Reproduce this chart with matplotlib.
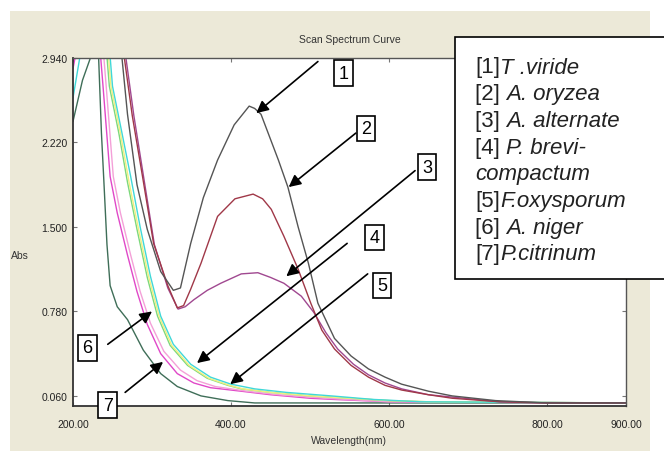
import matplotlib.pyplot as plt
from matplotlib.patches import Rectangle

# wavelength (nm) / absorbance readings for each scan
wl_t_viride = [200, 255, 262, 269, 281, 294, 311, 327, 336, 349, 365, 383, 404, 423, 430, 438,
               460, 472, 485, 498, 510, 531, 552, 574, 595, 616, 650, 680, 735, 800, 900]
abs_t_viride = [3.2, 3.2, 2.94, 2.46, 1.86, 1.48, 1.12, 0.96, 0.98, 1.36, 1.75, 2.07, 2.37, 2.53, 2.51, 2.46,
                2.07, 1.84, 1.50, 1.19, 0.85, 0.55, 0.40, 0.29, 0.22, 0.16, 0.10, 0.06, 0.02, 0.0, 0.0]

wl_a_oryzea = [200, 258, 265, 275, 288, 302, 320, 332, 340, 349, 362, 383, 405, 428, 440, 451,
               467, 485, 501, 515, 531, 552, 574, 595, 616, 650, 680, 740, 800, 900]
abs_a_oryzea = [3.2, 3.2, 2.94, 2.45, 1.93, 1.36, 1.00, 0.81, 0.83, 0.97, 1.19, 1.59, 1.74, 1.78, 1.74, 1.65,
                1.42, 1.14, 0.85, 0.62, 0.46, 0.32, 0.22, 0.15, 0.11, 0.07, 0.04, 0.01, 0.0, 0.0]

wl_a_alternate = [200, 260, 267, 277, 290, 303, 320, 333, 342, 353, 370, 387, 413, 434, 450, 467,
                  489, 505, 520, 535, 555, 574, 595, 616, 650, 680, 740, 800, 900]
abs_a_alternate = [3.2, 3.2, 2.94, 2.45, 1.90, 1.35, 0.98, 0.80, 0.82, 0.88, 0.96, 1.02, 1.10, 1.11, 1.07, 1.02,
                   0.91, 0.77, 0.60, 0.46, 0.33, 0.24, 0.17, 0.12, 0.07, 0.05, 0.01, 0.0, 0.0]

wl_p_brevi = [200, 215, 244, 250, 262, 273, 285, 298, 311, 327, 349, 374, 400, 430, 470, 527, 580, 640, 900]
abs_p_brevi = [2.6, 3.2, 3.2, 2.7, 2.3, 1.93, 1.50, 1.08, 0.74, 0.50, 0.33, 0.22, 0.16, 0.12, 0.09, 0.06, 0.03, 0.01, 0.0]

wl_f_oxysporum = [200, 242, 248, 260, 271, 283, 296, 309, 325, 347, 372, 398, 415, 450, 500, 550, 600, 650, 900]
abs_f_oxysporum = [3.2, 3.2, 2.7, 2.3, 1.88, 1.48, 1.07, 0.74, 0.49, 0.32, 0.21, 0.15, 0.12, 0.09, 0.06, 0.04, 0.02, 0.01, 0.0]

wl_a_niger = [200, 240, 246, 258, 269, 281, 294, 307, 323, 345, 370, 396, 413, 450, 500, 550, 600, 650, 900]
abs_a_niger = [3.2, 3.2, 2.7, 2.3, 1.88, 1.48, 1.07, 0.74, 0.49, 0.32, 0.21, 0.15, 0.12, 0.09, 0.06, 0.04, 0.02, 0.01, 0.0]

wl_p_citrinum = [200, 210, 232, 238, 247, 256, 269, 281, 294, 311, 332, 353, 374, 413, 450, 500, 530, 600, 900]
abs_p_citrinum = [2.85, 3.2, 3.2, 2.7, 1.93, 1.62, 1.26, 0.95, 0.67, 0.42, 0.25, 0.17, 0.13, 0.10, 0.07, 0.04, 0.03, 0.01, 0.0]

# two more traces on the screen that carry no label
wl_extra_pink = [200, 236, 242, 251, 260, 273, 285, 298, 315, 336, 357, 380, 420, 460, 520, 600, 900]
abs_extra_pink = [3.2, 3.2, 2.7, 1.93, 1.62, 1.26, 0.95, 0.68, 0.44, 0.28, 0.19, 0.14, 0.10, 0.07, 0.04, 0.01, 0.0]

wl_extra_green = [200, 212, 222, 228, 231, 236, 239, 243, 247, 256, 269, 289, 311, 332, 362, 396, 430, 900]
abs_extra_green = [2.40, 2.75, 2.94, 3.2, 3.2, 2.3, 1.9, 1.35, 1.0, 0.82, 0.71, 0.45, 0.25, 0.14, 0.06, 0.02, 0.0, 0.0]

x_ticks = [200, 400, 600, 800, 900]
x_labels = ['200.00', '400.00', '600.00', '800.00', '900.00']
y_ticks = [0.060, 0.780, 1.500, 2.220, 2.940]
y_labels = ['0.060', '0.780', '1.500', '2.220', '2.940']

legend_lines = [('[1]', 'T .viride'), ('[2] ', 'A. oryzea'), ('[3] ', 'A. alternate'),
                ('[4] ', 'P. brevi-'), ('', 'compactum'), ('[5]', 'F.oxysporum'),
                ('[6] ', 'A. niger'), ('[7]', 'P.citrinum')]

# number box centre, arrow tail, arrow head (data coords)
callouts = [
    ('1', (542, 2.81), (510, 2.91), (432, 2.47)),
    ('2', (571, 2.34), (558, 2.30), (473, 1.84)),
    ('3', (648, 2.01), (633, 1.98), (470, 1.08)),
    ('4', (582, 1.41), (547, 1.36), (357, 0.34)),
    ('5', (591, 1.00), (573, 1.10), (399, 0.16)),
    ('6', (218, 0.47), (244, 0.50), (300, 0.78)),
    ('7', (244, -0.02), (266, 0.09), (314, 0.35)),
]

narrow = ['Liberation Sans Narrow', 'Liberation Sans', 'DejaVu Sans']
W, H = 664, 456

fig = plt.figure(figsize=(6.64, 4.56), dpi=100)
fig.patch.set_facecolor('white')
fig.add_artist(Rectangle((10 / W, 4 / H), 640 / W, 440 / H, transform=fig.transFigure,
                         facecolor='#ECE9D8', edgecolor='none', zorder=-5))

ax = fig.add_axes([73 / W, 1 - 407 / H, 553 / W, 348 / H], zorder=1)
ax.set_facecolor('white')

traces = [
    (wl_extra_green, abs_extra_green, '#3f6e58'),
    (wl_p_citrinum, abs_p_citrinum, '#e048c8'),
    (wl_extra_pink, abs_extra_pink, '#f4a0d8'),
    (wl_a_niger, abs_a_niger, '#7cd87c'),
    (wl_f_oxysporum, abs_f_oxysporum, '#f0f080'),
    (wl_p_brevi, abs_p_brevi, '#40d8d8'),
    (wl_a_alternate, abs_a_alternate, '#a04890'),
    (wl_a_oryzea, abs_a_oryzea, '#a03848'),
    (wl_t_viride, abs_t_viride, '#555555'),
]
for wl, ab, col in traces:
    ax.plot(wl, ab, color=col, lw=1.0)

ax.set_xlim(200, 900)
ax.set_ylim(-0.026, 2.94)
ax.set_xticks(x_ticks)
ax.set_xticklabels(x_labels)
ax.set_yticks(y_ticks)
ax.set_yticklabels(y_labels)
ax.tick_params(direction='in', length=3, top=True, right=True, color='#777777',
               labelsize=7.5, labelcolor='#222222')
ax.tick_params(axis='x', pad=9)
ax.tick_params(axis='y', pad=4)
for lab in ax.get_xticklabels() + ax.get_yticklabels():
    lab.set_family(narrow)
for side in ['top', 'right']:
    ax.spines[side].set_color('#555555')
    ax.spines[side].set_linewidth(1.0)
for side in ['left', 'bottom']:
    ax.spines[side].set_color('#333333')
    ax.spines[side].set_linewidth(1.3)

fig.text(350 / W, 1 - 40 / H, 'Scan Spectrum Curve', ha='center', va='center',
         fontsize=7.5, family=narrow, color='#333333')
fig.text(20 / W, 1 - 256 / H, 'Abs', ha='center', va='center', fontsize=7.5,
         family=narrow, color='#333333')
fig.text(349 / W, 1 - 441 / H, 'Wavelength(nm)', ha='center', va='center', fontsize=7.5,
         family=narrow, color='#333333')

# arrows and numbered boxes
for num, box, tail, head in callouts:
    ax.annotate('', xy=head, xytext=tail, annotation_clip=False,
                arrowprops=dict(arrowstyle='-|>', color='black', lw=1.2,
                                mutation_scale=18, shrinkA=0, shrinkB=0))
    ax.text(box[0], box[1], num, ha='center', va='center', fontsize=13,
            family='Liberation Sans', clip_on=False, zorder=5,
            bbox=dict(boxstyle='square,pad=0.24', facecolor='white',
                      edgecolor='black', lw=1.2))

# text legend box, drawn on top of the axes
fig.add_artist(Rectangle((455 / W, 1 - 280 / H), 260 / W, 242 / H, transform=fig.transFigure,
                         facecolor='white', edgecolor='black', lw=1.2, zorder=6))
renderer = fig.canvas.get_renderer()
for i, (tag, name) in enumerate(legend_lines):
    yc = 1 - (68 + i * 26.7) / H
    x_name = 475 / W
    if tag:
        t = fig.text(475 / W, yc, tag, ha='left', va='center', fontsize=16,
                     family='Liberation Sans', color='#222222', zorder=7)
        x_name = fig.transFigure.inverted().transform((t.get_window_extent(renderer).x1, 0))[0]
    fig.text(x_name, yc, name, ha='left', va='center', fontsize=16,
             family='Liberation Sans', style='italic', color='#222222', zorder=7)

fig.savefig('out.png', dpi=100)
